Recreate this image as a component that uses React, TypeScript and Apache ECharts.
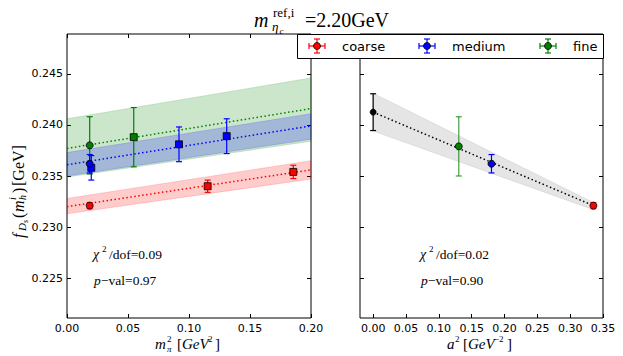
import React, { useEffect, useRef } from "react";
import * as echarts from "echarts";

// ---- tick labels ----
const pionTicks = [0, 0.05, 0.1, 0.15, 0.2];
const a2Ticks = [0, 0.05, 0.1, 0.15, 0.2, 0.25, 0.3, 0.35];
const fTicks = [0.225, 0.23, 0.235, 0.24, 0.245];

// ---- left panel: [m_pi^2, f_Ds, err] ----
const coarsePhys = [[0.0186, 0.2321, 0.0003]];
const coarseEns = [[0.1153, 0.2340, 0.0006], [0.1855, 0.2354, 0.00065]];
const mediumPhys = [[0.0186, 0.2362, 0.0009]];
const mediumEns = [[0.0199, 0.2358, 0.0012], [0.0918, 0.2381, 0.0017], [0.1309, 0.2389, 0.0017]];
const finePhys = [[0.0186, 0.2380, 0.0028]];
const fineEns = [[0.0547, 0.2388, 0.0029]];

// fit bands [x, lo, hi] and central fit lines [x, y]
const coarseBand = [[0, 0.2313, 0.2328], [0.2, 0.2347, 0.2365]];
const mediumBand = [[0, 0.2350, 0.2373], [0.2, 0.2386, 0.2411]];
const fineBand = [[0, 0.2349, 0.2406], [0.2, 0.2384, 0.2446]];
const coarseFit = [[0, 0.2320], [0.2, 0.2356]];
const mediumFit = [[0, 0.2361], [0.2, 0.2399]];
const fineFit = [[0, 0.2377], [0.2, 0.2416]];

// ---- right panel: [a^2, f_Ds, err] ----
const contPoint = [[0, 0.24125, 0.0018]];
const fineCont = [[0.1304, 0.2379, 0.0029]];
const mediumCont = [[0.1802, 0.2362, 0.0009]];
const coarseCont = [[0.3354, 0.2321, 0.0003]];
const contBand = [[0, 0.2394, 0.2431], [0.3354, 0.2317, 0.2324]];
const contFit = [[0, 0.24125], [0.3354, 0.2321]];

const RED = "#ff0000";
const BLUE = "#0000ff";
const GREEN = "#008000";

function band(data: number[][], fill: string, xi: number, yi: number) {
  return {
    type: "custom",
    xAxisIndex: xi,
    yAxisIndex: yi,
    z: 1,
    silent: true,
    data: [[data[0][0], data[0][1]]],
    renderItem: (_p: any, api: any) => {
      const top = data.map((d) => api.coord([d[0], d[2]]));
      const bot = data.slice().reverse().map((d) => api.coord([d[0], d[1]]));
      return {
        type: "polygon",
        shape: { points: top.concat(bot) },
        style: { fill, stroke: fill, lineWidth: 0.8 },
      };
    },
  };
}

function fitLine(data: number[][], color: string, xi: number, yi: number) {
  return {
    type: "line",
    xAxisIndex: xi,
    yAxisIndex: yi,
    z: 2,
    silent: true,
    data,
    symbol: "none",
    showSymbol: false,
    lineStyle: { color, width: 1.5, type: [1.5, 2.5] },
  };
}

function errBars(data: number[][], color: string, xi: number, yi: number, cap = 3) {
  return {
    type: "custom",
    xAxisIndex: xi,
    yAxisIndex: yi,
    z: 3,
    silent: true,
    dimensions: ["x", "y", "e"],
    encode: { x: 0, y: 1 },
    data,
    renderItem: (_p: any, api: any) => {
      const x = api.value(0);
      const y = api.value(1);
      const e = api.value(2);
      const hi = api.coord([x, y + e]);
      const lo = api.coord([x, y - e]);
      const st = { stroke: color, lineWidth: 1.2 };
      return {
        type: "group",
        children: [
          { type: "line", shape: { x1: hi[0], y1: hi[1], x2: lo[0], y2: lo[1] }, style: st },
          { type: "line", shape: { x1: hi[0] - cap, y1: hi[1], x2: hi[0] + cap, y2: hi[1] }, style: st },
          { type: "line", shape: { x1: lo[0] - cap, y1: lo[1], x2: lo[0] + cap, y2: lo[1] }, style: st },
        ],
      };
    },
  };
}

function markers(data: number[][], color: string, symbol: string, size: number, xi: number, yi: number) {
  return {
    type: "scatter",
    xAxisIndex: xi,
    yAxisIndex: yi,
    z: 4,
    silent: true,
    data: data.map((d) => [d[0], d[1]]),
    symbol,
    symbolSize: size,
    itemStyle: { color, borderColor: "#000", borderWidth: 0.8, opacity: 1 },
  };
}

const tickBase = { inside: true, length: 4, lineStyle: { color: "#000", width: 1 } };
const labelBase = { color: "#000", fontSize: 11, fontFamily: "DejaVu Sans" };

function xAx(grid: number, min: number, max: number, ticks: number[], pos: string, labels: boolean) {
  return {
    type: "value",
    gridIndex: grid,
    min,
    max,
    position: pos,
    axisLine: { show: false, onZero: false },
    axisTick: { ...tickBase, customValues: ticks },
    axisLabel: { ...labelBase, show: labels, customValues: ticks, margin: 5, formatter: (v: number) => v.toFixed(2) },
    splitLine: { show: false },
  };
}
function yAx(grid: number, pos: string, labels: boolean) {
  return {
    type: "value",
    gridIndex: grid,
    min: 0.2211,
    max: 0.2489,
    position: pos,
    axisLine: { show: false, onZero: false },
    axisTick: { ...tickBase, customValues: fTicks },
    axisLabel: { ...labelBase, show: labels, customValues: fTicks, margin: 4, formatter: (v: number) => v.toFixed(3) },
    splitLine: { show: false },
  };
}

const SERIF = "Liberation Serif";
function txt(x: number, y: number, text: string, size: number, italic = false, extra: any = {}) {
  return {
    type: "text",
    x,
    y,
    z: extra.z ?? 10,
    silent: true,
    style: {
      text,
      fill: "#000",
      fontSize: size,
      fontFamily: extra.family || SERIF,
      fontStyle: italic ? "italic" : "normal",
      align: extra.align || "left",
      verticalAlign: "middle",
    },
  };
}

function legendIcon(cx: number, cy: number, color: string) {
  const st = { stroke: color, lineWidth: 1.2 };
  const z = 101;
  return {
    type: "group",
    silent: true,
    z,
    children: [
      { type: "line", z, shape: { x1: cx - 8, y1: cy, x2: cx + 8, y2: cy }, style: st },
      { type: "line", z, shape: { x1: cx - 8, y1: cy - 3, x2: cx - 8, y2: cy + 3 }, style: st },
      { type: "line", z, shape: { x1: cx + 8, y1: cy - 3, x2: cx + 8, y2: cy + 3 }, style: st },
      { type: "line", z, shape: { x1: cx, y1: cy - 7, x2: cx, y2: cy + 7 }, style: st },
      { type: "line", z, shape: { x1: cx - 3, y1: cy - 7, x2: cx + 3, y2: cy - 7 }, style: st },
      { type: "line", z, shape: { x1: cx - 3, y1: cy + 7, x2: cx + 3, y2: cy + 7 }, style: st },
      { type: "circle", z: z + 1, shape: { cx, cy, r: 3.5 }, style: { fill: color, stroke: "#000", lineWidth: 0.8 } },
    ],
  };
}

const option: any = {
  animation: false,
  backgroundColor: "#fff",
  grid: [
    { left: 67, top: 34, width: 244, height: 284, show: true, borderColor: "#000", borderWidth: 1, containLabel: false },
    { left: 360, top: 34, width: 243, height: 284, show: true, borderColor: "#000", borderWidth: 1, containLabel: false },
  ],
  xAxis: [
    xAx(0, 0, 0.2, pionTicks, "bottom", true),
    xAx(0, 0, 0.2, pionTicks, "top", false),
    xAx(1, -0.02, 0.35, a2Ticks, "bottom", true),
    xAx(1, -0.02, 0.35, a2Ticks, "top", false),
  ],
  yAxis: [yAx(0, "left", true), yAx(0, "right", false), yAx(1, "left", false), yAx(1, "right", false)],
  series: [
    band(fineBand, "rgba(0,128,0,0.2)", 0, 0),
    band(mediumBand, "rgba(0,0,255,0.2)", 0, 0),
    band(coarseBand, "rgba(255,0,0,0.2)", 0, 0),
    fitLine(fineFit, GREEN, 0, 0),
    fitLine(mediumFit, BLUE, 0, 0),
    fitLine(coarseFit, RED, 0, 0),
    errBars(finePhys, GREEN, 0, 0),
    errBars(fineEns, GREEN, 0, 0),
    errBars(mediumPhys, BLUE, 0, 0),
    errBars(mediumEns, BLUE, 0, 0),
    errBars(coarsePhys, RED, 0, 0),
    errBars(coarseEns, RED, 0, 0),
    markers(fineEns, GREEN, "rect", 7, 0, 0),
    markers(mediumEns, BLUE, "rect", 7, 0, 0),
    markers(coarseEns, RED, "rect", 7, 0, 0),
    markers(finePhys, GREEN, "circle", 7, 0, 0),
    markers(mediumPhys, BLUE, "circle", 7, 0, 0),
    markers(coarsePhys, RED, "circle", 7, 0, 0),

    band(contBand, "rgba(0,0,0,0.1)", 2, 2),
    fitLine(contFit, "#000", 2, 2),
    errBars(contPoint, "#000", 2, 2),
    errBars(fineCont, "rgba(0,128,0,0.75)", 2, 2),
    errBars(mediumCont, BLUE, 2, 2),
    errBars(coarseCont, RED, 2, 2),
    markers(contPoint, "#000", "circle", 6, 2, 2),
    markers(fineCont, GREEN, "circle", 7, 2, 2),
    markers(mediumCont, BLUE, "circle", 7, 2, 2),
    markers(coarseCont, RED, "circle", 7, 2, 2),
  ],
  graphic: [
    // title
    txt(254, 20, "m", 20, true),
    txt(273, 12.5, "ref,i", 13),
    txt(272, 26, "η", 13, true),
    txt(279.5, 30.5, "c", 9, true),
    txt(305, 20, "=2.20GeV", 20),
    // legend
    {
      type: "rect",
      silent: true,
      z: 100,
      shape: { x: 297.5, y: 34.5, width: 306, height: 24 },
      style: { fill: "#fff", stroke: "#000", lineWidth: 1 },
    },
    legendIcon(317, 46, RED),
    legendIcon(427, 46, BLUE),
    legendIcon(548, 46, GREEN),
    txt(342, 46, "coarse", 13, false, { family: "DejaVu Sans", z: 101 }),
    txt(452, 46, "medium", 13, false, { family: "DejaVu Sans", z: 101 }),
    txt(573, 46, "fine", 13, false, { family: "DejaVu Sans", z: 101 }),
    // left annotations
    txt(93, 254, "χ", 14, true),
    txt(102, 249, "2", 9),
    txt(109, 254, "/dof=0.09", 13.5),
    txt(94, 280, "p", 13.5, true),
    txt(101, 280, "−val=0.97", 13.5),
    // right annotations
    txt(420, 254, "χ", 14, true),
    txt(429, 249, "2", 9),
    txt(436, 254, "/dof=0.02", 13.5),
    txt(421, 280, "p", 13.5, true),
    txt(428, 280, "−val=0.90", 13.5),
    // left x label: m_pi^2 [GeV^2]
    txt(155, 344, "m", 15, true),
    txt(167, 349, "π", 9, true),
    txt(167, 338.5, "2", 9),
    txt(177, 344, "[", 15),
    txt(182, 344, "GeV", 15, true),
    txt(208, 338.5, "2", 9),
    txt(215, 344, "]", 15),
    // right x label: a^2 [GeV^-2]
    txt(447, 344, "a", 15, true),
    txt(455, 338.5, "2", 9),
    txt(463, 344, "[", 15),
    txt(468, 344, "GeV", 15, true),
    txt(494, 338.5, "−2", 9),
    txt(507, 344, "]", 15),
    // y label: f_{D_s}(m_h^i)[GeV], rotated
    {
      type: "group",
      x: 18,
      y: 176,
      rotation: Math.PI / 2,
      silent: true,
      children: [
        txt(-62, 0, "f", 16, true),
        txt(-55, 4, "D", 11, true),
        txt(-47, 7, "s", 8, true),
        txt(-42, 0, "(", 16),
        txt(-36, 0, "m", 16, true),
        txt(-24, 4.5, "h", 10, true),
        txt(-24, -6, "i", 10, true),
        txt(-17, 0, ")", 16),
        txt(-10, 0, "[GeV]", 16),
      ],
    },
  ],
};

export default function App() {
  const ref = useRef<HTMLDivElement>(null);
  useEffect(() => {
    const chart = echarts.init(ref.current!, null, { renderer: "svg" });
    chart.setOption(option);
    return () => chart.dispose();
  }, []);
  return (
    <div
      ref={ref}
      style={{ position: "fixed", left: 0, top: 0, width: 623, height: 356 }}
    />
  );
}
